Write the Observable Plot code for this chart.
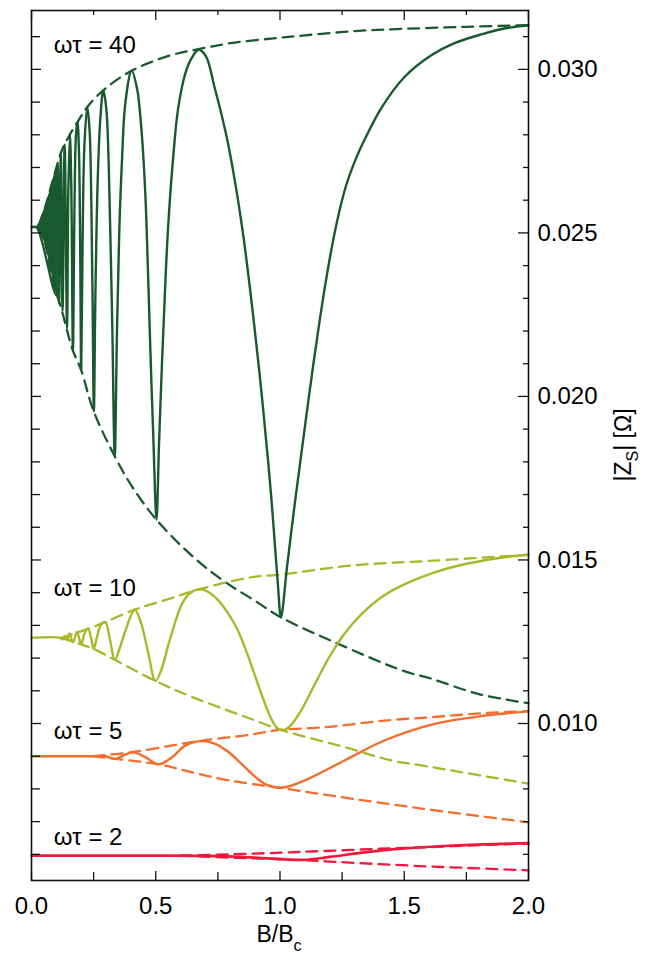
<!DOCTYPE html>
<html><head><meta charset="utf-8">
<script src="https://cdn.jsdelivr.net/npm/d3@7"></script>
<script src="https://cdn.jsdelivr.net/npm/@observablehq/plot@0.6"></script>
<style>body{margin:0;background:#fff} svg{display:block}</style>
</head><body><div id="chart"></div>
<script>
// ---------- data (x = B/Bc, y = |Zs| in Ohm) ----------
const xMajorTicks = [0, 0.5, 1.0, 1.5, 2.0];
const xTickLabels = ["0.0", "0.5", "1.0", "1.5", "2.0"];
const xMinorTicks = [0.25, 0.75, 1.25, 1.75];
const yMajorTicks = [0.010, 0.015, 0.020, 0.025, 0.030];
const yTickLabels = ["0.010", "0.015", "0.020", "0.025", "0.030"];
const yMinorTicks = [0.006, 0.007, 0.008, 0.009, 0.011, 0.012, 0.013, 0.014, 0.016, 0.017, 0.018, 0.019,
                     0.021, 0.022, 0.023, 0.024, 0.026, 0.027, 0.028, 0.029, 0.031];

const seriesLabels = ["ωτ = 40", "ωτ = 10", "ωτ = 5", "ωτ = 2"];
const seriesLabelX = [0.09, 0.09, 0.09, 0.09];
const seriesLabelY = [0.03074, 0.01414, 0.009755, 0.006529];

// ωτ = 40: unresolved fast oscillations near B = 0 [x, lower, upper]
const wt40_dense = [[0.02,0.02517,0.02517],[0.03,0.02505,0.0253],[0.055,0.02467,0.02579],[0.075,0.0240,0.0263],
  [0.089,0.02345,0.0267],[0.1,0.0231,0.0270],[0.108,0.02295,0.0272]];
const wt40_solid = [[0,0.02517],[0.02,0.02517],[0.1,0.0231],[0.1056,0.0271],[0.111,0.02285],[0.118,0.0274],
  [0.125,0.02263],[0.1335,0.0277],[0.1429,0.0221],[0.148,0.0262],[0.1546,0.0280],[0.160,0.0265],[0.1667,0.0214],
  [0.173,0.0258],[0.179,0.0280],[0.185,0.0284],[0.191,0.0275],[0.196,0.0245],[0.2,0.0208],[0.206,0.0250],
  [0.213,0.0277],[0.2245,0.02885],[0.234,0.0281],[0.241,0.0258],[0.246,0.0228],[0.251,0.01955],[0.257,0.0230],
  [0.266,0.0265],[0.277,0.0285],[0.289,0.02936],[0.301,0.0288],[0.311,0.0270],[0.318,0.0247],[0.325,0.0222],
  [0.335,0.01817],[0.344,0.0220],[0.353,0.0250],[0.364,0.0272],[0.378,0.0290],[0.403,0.02996],[0.425,0.0294],
  [0.443,0.0281],[0.458,0.0262],[0.468,0.0240],[0.478,0.0215],[0.490,0.0188],[0.503,0.01623],[0.513,0.0185],
  [0.525,0.0210],[0.537,0.0232],[0.55,0.0252],[0.57,0.0273],[0.59,0.0288],[0.62,0.0299],[0.645,0.03035],
  [0.672,0.0306],[0.702,0.0304],[0.735,0.0295],[0.789,0.0278],[0.847,0.0252],[0.896,0.0222],[0.931,0.0197],
  [0.964,0.0170],[0.991,0.0143],[1.004,0.01325],[1.028,0.01477],[1.056,0.01651],[1.085,0.0182],[1.117,0.02003],
  [1.149,0.02177],[1.185,0.02355],[1.226,0.02523],[1.266,0.02645],[1.306,0.02728],[1.339,0.02783],
  [1.407,0.02881],[1.5,0.02976],[1.609,0.03043],[1.702,0.0308],[1.81,0.03107],[1.903,0.03125],[2.0,0.03135]];
const wt40_upper = [[0.03,0.02523],[0.055,0.02579],[0.089,0.0267],[0.122,0.02752],[0.156,0.02803],[0.19,0.02845],
  [0.2245,0.02885],[0.289,0.02936],[0.403,0.02996],[0.56,0.03043],[0.672,0.03062],[0.8,0.0308],[0.964,0.03094],
  [1.1,0.03104],[1.3,0.03117],[1.5,0.03124],[1.75,0.0313],[2.0,0.03135]];
const wt40_lower = [[0.03,0.02523],[0.055,0.02467],[0.089,0.02345],[0.122,0.02263],[0.142,0.02205],[0.1667,0.0214],
  [0.2,0.0208],[0.25,0.01955],[0.335,0.01817],[0.4,0.0173],[0.503,0.01623],[0.65,0.0151],[0.775,0.01435],
  [0.9,0.01375],[1.003,0.01325],[1.233,0.01244],[1.5,0.0116],[1.609,0.01137],[1.8,0.0109],[2.0,0.01062]];

// ωτ = 10
const wt10_solid = [[0,0.01262],[0.115,0.01262],[0.125,0.01257],[0.135,0.01268],[0.143,0.01255],[0.152,0.01275],
  [0.1667,0.01248],[0.183,0.0128],[0.2,0.01242],[0.213,0.01275],[0.228,0.0129],[0.24,0.0126],[0.25,0.01228],
  [0.262,0.0126],[0.28,0.01303],[0.297,0.0131],[0.315,0.0126],[0.335,0.01195],[0.355,0.0123],[0.378,0.01284],
  [0.415,0.01348],[0.44,0.0131],[0.47,0.01215],[0.499,0.0113],[0.525,0.0117],[0.552,0.01244],[0.606,0.01366],
  [0.64,0.0140],[0.673,0.0141],[0.71,0.01403],[0.75,0.01378],[0.79,0.01338],[0.83,0.01285],[0.865,0.0122],
  [0.9,0.01145],[0.935,0.0107],[0.969,0.01008],[0.99,0.00985],[1.011,0.00979],[1.04,0.00992],[1.085,0.0104],
  [1.15,0.01135],[1.2,0.01205],[1.26,0.01275],[1.33,0.01336],[1.42,0.01392],[1.52,0.01432],[1.622,0.01462],
  [1.72,0.01483],[1.824,0.01499],[1.91,0.01509],[2.0,0.01516]];
const wt10_upper = [[0.12,0.01262],[0.23,0.0129],[0.297,0.0131],[0.415,0.01348],[0.55,0.0138],[0.673,0.0141],
  [0.883,0.01447],[1.0,0.01455],[1.286,0.01483],[1.62,0.01498],[2.0,0.01516]];
const wt10_lower = [[0.12,0.01262],[0.2,0.01242],[0.25,0.01228],[0.335,0.01195],[0.499,0.0113],[0.65,0.0108],
  [0.862,0.0102],[1.011,0.00979],[1.25,0.0093],[1.448,0.00887],[1.569,0.00872],[2.0,0.00816]];

// ωτ = 5
const wt5_solid = [[0,0.0090],[0.25,0.0090],[0.297,0.0090],[0.337,0.00892],[0.378,0.00905],[0.411,0.00912],
  [0.458,0.00897],[0.512,0.00875],[0.566,0.00897],[0.62,0.00933],[0.687,0.00946],[0.74,0.00938],[0.794,0.00912],
  [0.85,0.00873],[0.902,0.00836],[0.945,0.00813],[0.983,0.00805],[1.02,0.00805],[1.1,0.00826],[1.26,0.00887],
  [1.42,0.00948],[1.622,0.00999],[1.824,0.01024],[2.0,0.01037]];
const wt5_upper = [[0.25,0.0090],[0.4,0.00912],[0.566,0.00933],[0.687,0.00948],[0.883,0.00966],[0.983,0.00979],
  [1.2,0.0099],[1.42,0.01009],[1.624,0.0102],[1.824,0.01032],[2.0,0.01038]];
const wt5_lower = [[0.25,0.0090],[0.337,0.00892],[0.512,0.00875],[0.65,0.0085],[0.794,0.00826],[0.983,0.00805],
  [1.2,0.0078],[1.569,0.0074],[2.0,0.00698]];

// ωτ = 2
const wt2_solid = [[0,0.00596],[0.5,0.00596],[0.7,0.00595],[0.9,0.0059],[1.09,0.00583],[1.2,0.00592],
  [1.33,0.00605],[1.5,0.00618],[1.7,0.00627],[2.0,0.00634]];
const wt2_upper = [[0.6,0.00596],[0.8,0.006],[1.0,0.00605],[1.17,0.0061],[1.4,0.00617],[1.6,0.00622],
  [1.8,0.00628],[2.0,0.00633]];
const wt2_lower = [[0.6,0.00596],[0.8,0.0059],[1.0,0.00585],[1.2,0.00578],[1.4,0.0057],[1.6,0.00563],
  [1.8,0.00557],[2.0,0.00551]];

// ---------- styling ----------
const C40 = "#185a2d", C10 = "#a9b82b", C5 = "#f46d2c", C2 = "#f0183c";
const W = 649, H = 956, mL = 31, mR = 121, mT = 10, mB = 76;
const plotW = W - mL - mR, plotH = H - mT - mB;
const FONT = "'Liberation Sans', Arial, Helvetica, sans-serif";
const xy = {x: d => d[0], y: d => d[1]};
const solid = (data, color, w = 2.4) => Plot.line(data, {...xy, stroke: color, strokeWidth: w, curve: "catmull-rom"});
const dashed = (data, color) => Plot.line(data, {...xy, stroke: color, strokeWidth: 2.3, strokeDasharray: "11,7", curve: "catmull-rom"});
const tickStyle = {stroke: "#111", strokeWidth: 1.3};

const chart = Plot.plot({
  width: W, height: H,
  marginLeft: mL, marginRight: mR, marginTop: mT, marginBottom: mB,
  x: {domain: [0, 2], axis: null},
  y: {domain: [0.0052, 0.0318], axis: null},
  style: {fontFamily: FONT, background: "#fff", color: "#000"},
  marks: [
    Plot.areaY(wt40_dense, {x: d => d[0], y1: d => d[1], y2: d => d[2], fill: C40, curve: "linear"}),
    dashed(wt40_upper, C40), dashed(wt40_lower, C40),
    dashed(wt10_upper, C10), dashed(wt10_lower, C10),
    dashed(wt5_upper, C5), dashed(wt5_lower, C5),
    dashed(wt2_upper, C2), dashed(wt2_lower, C2),
    solid(wt40_solid, C40), solid(wt10_solid, C10), solid(wt5_solid, C5), solid(wt2_solid, C2, 2.7),
    Plot.frame({stroke: "#111", strokeWidth: 1.6}),
    Plot.tickX(xMajorTicks, {x: d => d, insetTop: plotH - 9, ...tickStyle}),
    Plot.tickX(xMajorTicks, {x: d => d, insetBottom: plotH - 10, ...tickStyle}),
    Plot.tickX(xMinorTicks, {x: d => d, insetTop: plotH - 8, ...tickStyle}),
    Plot.tickX(xMinorTicks, {x: d => d, insetBottom: plotH - 5, ...tickStyle}),
    Plot.tickY(yMajorTicks, {y: d => d, insetRight: plotW - 10, ...tickStyle}),
    Plot.tickY(yMajorTicks, {y: d => d, insetLeft: plotW - 10, ...tickStyle}),
    Plot.tickY(yMinorTicks, {y: d => d, insetRight: plotW - 9, ...tickStyle}),
    Plot.tickY(yMinorTicks, {y: d => d, insetLeft: plotW - 5, ...tickStyle}),
    Plot.text(xMajorTicks, {x: d => d, text: (d, i) => xTickLabels[i], frameAnchor: "bottom", lineAnchor: "top",
      dy: 16, fontSize: 24, fill: "#000"}),
    Plot.text(yMajorTicks, {y: d => d, text: (d, i) => yTickLabels[i], frameAnchor: "right", textAnchor: "start",
      dx: 9, fontSize: 24, fill: "#000"}),
    Plot.text(seriesLabels, {x: (d, i) => seriesLabelX[i], y: (d, i) => seriesLabelY[i], text: d => d,
      textAnchor: "start", fontSize: 24, fill: "#000"})
  ]
});

// axis titles with subscripts
const svg = d3.select(chart);
const xl = svg.append("text").attr("x", 279).attr("y", 942).attr("text-anchor", "middle")
  .attr("font-family", FONT).attr("font-size", 23).attr("fill", "#000");
xl.append("tspan").text("B/B");
xl.append("tspan").attr("font-size", 16).attr("dy", 9).text("c");

const yl = svg.append("text").attr("transform", "translate(631,445) rotate(-90)").attr("text-anchor", "middle")
  .attr("font-family", FONT).attr("font-size", 23).attr("fill", "#000");
yl.append("tspan").text("|Z");
yl.append("tspan").attr("font-size", 16).attr("dy", 7).text("S");
yl.append("tspan").attr("dy", -7).text("| [Ω]");

document.getElementById("chart").appendChild(chart);
</script>
</body></html>
